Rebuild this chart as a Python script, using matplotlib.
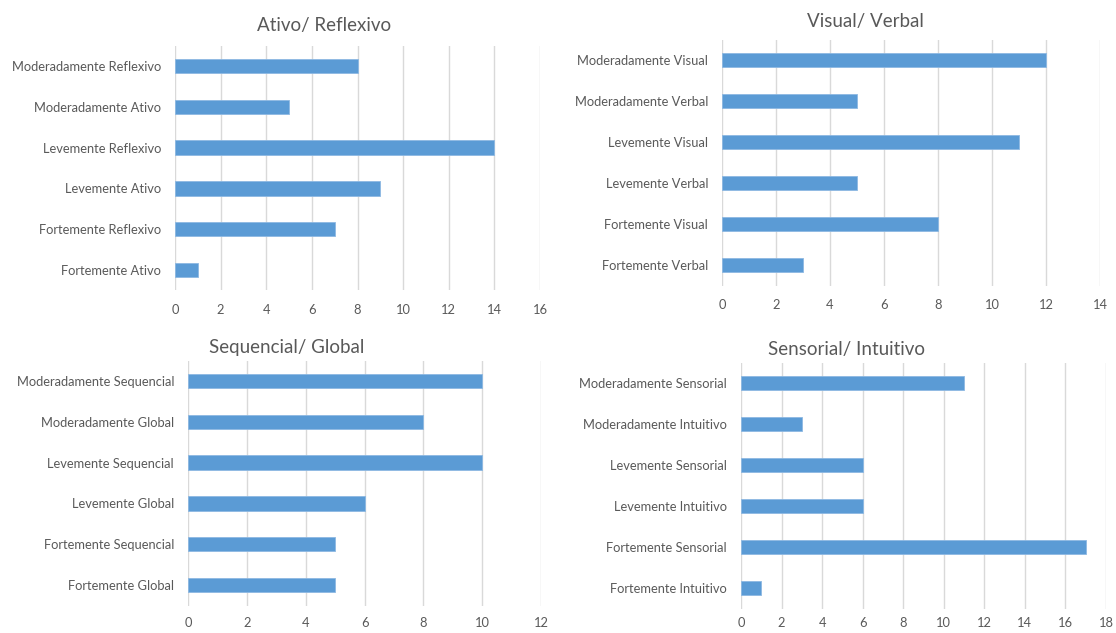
import numpy as np
import matplotlib.pyplot as plt

# Category data (bottom to top, as in the spreadsheet order)
ativo_labels = ["Fortemente Ativo", "Fortemente Reflexivo", "Levemente Ativo",
                "Levemente Reflexivo", "Moderadamente Ativo", "Moderadamente Reflexivo"]
ativo_vals = [1, 7, 9, 14, 5, 8]

visual_labels = ["Fortemente Verbal", "Fortemente Visual", "Levemente Verbal",
                 "Levemente Visual", "Moderadamente Verbal", "Moderadamente Visual"]
visual_vals = [3, 8, 5, 11, 5, 12]

seq_labels = ["Fortemente Global", "Fortemente Sequencial", "Levemente Global",
              "Levemente Sequencial", "Moderadamente Global", "Moderadamente Sequencial"]
seq_vals = [5, 5, 6, 10, 8, 10]

sens_labels = ["Fortemente Intuitivo", "Fortemente Sensorial", "Levemente Intuitivo",
               "Levemente Sensorial", "Moderadamente Intuitivo", "Moderadamente Sensorial"]
sens_vals = [1, 17, 6, 6, 3, 11]

titles = ["Ativo/ Reflexivo", "Visual/ Verbal", "Sequencial/ Global", "Sensorial/ Intuitivo"]
xmaxes = [16, 14, 12, 18]

plt.rcParams['font.family'] = ['Lato', 'DejaVu Sans']
text_col = '#595959'
bar_col = '#5B9BD5'
grid_col = '#D9D9D9'

W, H = 1116, 633
fig = plt.figure(figsize=(W / 100, H / 100), dpi=100)

# axes boxes in pixels: left, right, top, bottom
boxes = [(175, 540, 45.5, 290.5),
         (722, 1100, 39.5, 285.5),
         (188, 541, 360.5, 605.5),
         (741, 1106, 362.5, 608.5)]
title_pos = [(324, 25), (865, 22), (287, 347), (846, 349)]
xpads = [10, 10, 8, 6]
datasets = [(ativo_labels, ativo_vals), (visual_labels, visual_vals),
            (seq_labels, seq_vals), (sens_labels, sens_vals)]

for (l, r, t, b), (labels, vals), xm, title, (tx, ty), xp in zip(boxes, datasets, xmaxes, titles, title_pos, xpads):
    ax = fig.add_axes([l / W, 1 - b / H, (r - l) / W, (b - t) / H])
    y = np.arange(len(labels))
    ax.barh(y, vals, height=0.35, color=bar_col, edgecolor='#8DB8E2', linewidth=0.6, zorder=3)
    ax.set_xlim(0, xm)
    ax.set_ylim(-0.5, len(labels) - 0.5)
    ax.set_xticks(np.arange(0, xm + 1, 2))
    ax.set_yticks(y)
    ax.set_yticklabels(labels)
    ax.grid(axis='x', color=grid_col, linewidth=1, zorder=0)
    ax.tick_params(length=0, colors=text_col, labelsize=9.3)
    ax.tick_params(axis='x', pad=xp)
    ax.tick_params(axis='y', pad=10)
    for s in ax.spines.values():
        s.set_visible(False)
    fig.text(tx / W, 1 - ty / H, title, ha='center', va='center', fontsize=13.5, color=text_col)

fig.savefig('out.png', dpi=100)
